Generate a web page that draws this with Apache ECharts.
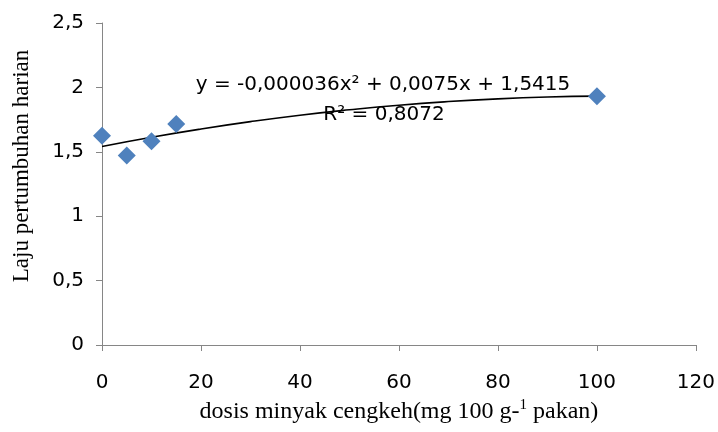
<!DOCTYPE html>
<html>
<head>
<meta charset="utf-8">
<script src="https://cdn.jsdelivr.net/npm/echarts@6/dist/echarts.min.js"></script>
<style>html,body{margin:0;padding:0;background:#fff}#c{width:718px;height:432px}</style>
</head>
<body>
<div id="c"></div>
<script>
// observed data
var doseX = [0, 5, 10, 15, 100];
var growthY = [1.625, 1.472, 1.581, 1.716, 1.931];
// polynomial trendline
var trendX = [0, 10, 20, 30, 40, 50, 60, 70, 80, 90, 100];
var trendY = [1.5415, 1.613, 1.677, 1.734, 1.784, 1.826, 1.862, 1.890, 1.911, 1.925, 1.932];
var xTicks = [0, 20, 40, 60, 80, 100, 120];
var yTicks = [0, 0.5, 1, 1.5, 2, 2.5];
var equationText = 'y = -0,000036x² + 0,0075x + 1,5415';
var r2Text = 'R² = 0,8072';
var yTitle = 'Laju pertumbuhan harian';

var chart = echarts.init(document.getElementById('c'));
var axisGrey = '#868686';
function comma(v){ return String(v).replace('.', ','); }
chart.setOption({
  animation: false,
  backgroundColor: '#fff',
  grid: { left: 102, right: 21, top: 23, bottom: 87, containLabel: false },
  xAxis: {
    type: 'value', min: xTicks[0], max: xTicks[xTicks.length-1], interval: 20,
    splitLine: { show: false },
    axisLine: { show: true, lineStyle: { color: axisGrey, width: 1 } },
    axisTick: { show: true, length: 6, lineStyle: { color: axisGrey } },
    axisLabel: { color: '#000', fontFamily: 'DejaVu Sans', fontSize: 20, margin: 28, formatter: comma },
    name: 'dosis minyak cengkeh(mg 100 g-{sup|1} pakan)',
    nameLocation: 'middle', nameGap: 65,
    nameTextStyle: {
      color: '#000', fontFamily: 'Liberation Serif', fontSize: 24, verticalAlign: 'middle',
      rich: { sup: { fontFamily: 'Liberation Serif', fontSize: 15, verticalAlign: 'top', padding: [0,0,12,0], color: '#000' } }
    }
  },
  yAxis: {
    type: 'value', min: yTicks[0], max: yTicks[yTicks.length-1], interval: 0.5,
    splitLine: { show: false },
    axisLine: { show: true, lineStyle: { color: axisGrey, width: 1 } },
    axisTick: { show: true, length: 6, lineStyle: { color: axisGrey } },
    axisLabel: { color: '#000', fontFamily: 'DejaVu Sans', fontSize: 20, margin: 18, formatter: comma }
  },
  graphic: [
    { type: 'text', x: 22, y: 166, rotation: Math.PI/2,
      style: { text: yTitle, fontFamily: 'Liberation Serif', fontSize: 23, fill: '#000', align: 'center', verticalAlign: 'middle' } },
    { type: 'text', x: 383, y: 85,
      style: { text: equationText, fontFamily: 'DejaVu Sans', fontSize: 20, fill: '#000', align: 'center', verticalAlign: 'middle' } },
    { type: 'text', x: 384, y: 115,
      style: { text: r2Text, fontFamily: 'DejaVu Sans', fontSize: 20, fill: '#000', align: 'center', verticalAlign: 'middle' } }
  ],
  series: [
    {
      type: 'line', data: trendX.map(function(x,i){ return [x, trendY[i]]; }),
      smooth: true, showSymbol: false, symbol: 'none',
      lineStyle: { color: '#000', width: 1.6 }, z: 2, silent: true
    },
    {
      type: 'scatter', data: doseX.map(function(x,i){ return [x, growthY[i]]; }),
      symbol: 'diamond', symbolSize: 18,
      itemStyle: { color: '#4F81BD', opacity: 1 }, z: 3
    }
  ]
});
</script>
</body>
</html>
